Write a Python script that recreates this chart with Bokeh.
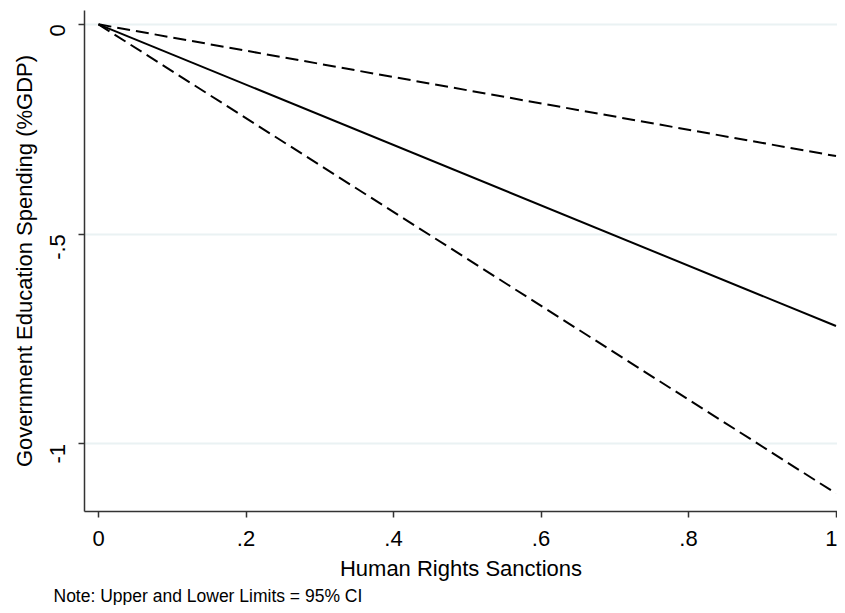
from bokeh.plotting import figure
from bokeh.models import FixedTicker, Title, Range1d
from bokeh.embed import file_html
from bokeh.resources import INLINE
import math

x_vals = [0, 1]
estimate = [0, -0.719]
upper = [0, -0.314]
lower = [0, -1.118]
x_ticks = [0, 0.2, 0.4, 0.6, 0.8, 1]
x_tick_labels = ["0", ".2", ".4", ".6", ".8", "1"]
y_ticks = [0, -0.5, -1]
y_tick_labels = ["0", "-.5", "-1"]

FONT = "Liberation Sans"

p = figure(width=837, height=605, output_backend="svg", toolbar_location=None,
           x_range=Range1d(-0.019, 1.002), y_range=Range1d(-1.161, 0.033),
           min_border_left=84, min_border_right=0, min_border_top=10, min_border_bottom=93)
p.outline_line_color = None
p.background_fill_color = "white"
p.border_fill_color = "white"

p.line(x_vals, estimate, line_color="black", line_width=2)
p.line(x_vals, upper, line_color="black", line_width=2, line_dash="13 6")
p.line(x_vals, lower, line_color="black", line_width=2, line_dash="13 6")

p.xgrid.grid_line_color = None
p.ygrid.grid_line_color = "#EAF2F3"
p.ygrid.grid_line_width = 2
p.ygrid.ticker = FixedTicker(ticks=y_ticks)

p.xaxis.ticker = FixedTicker(ticks=x_ticks)
p.yaxis.ticker = FixedTicker(ticks=y_ticks)
p.xaxis.major_label_overrides = {t: l for t, l in zip(x_ticks, x_tick_labels)}
p.yaxis.major_label_overrides = {t: l for t, l in zip(y_ticks, y_tick_labels)}
p.yaxis.major_label_orientation = math.pi / 2

for ax in (p.xaxis, p.yaxis):
    ax.axis_line_color = "#333333"
    ax.axis_line_width = 1.5
    ax.major_tick_line_color = "#333333"
    ax.major_tick_line_width = 1.5
    ax.major_tick_out = 6
    ax.major_tick_in = 0
    ax.minor_tick_line_color = None
    ax.major_label_text_font = FONT
    ax.major_label_text_font_size = "22px"
    ax.major_label_text_color = "black"
    ax.axis_label_text_font = FONT
    ax.axis_label_text_font_size = "22px"
    ax.axis_label_text_font_style = "normal"
    ax.axis_label_text_color = "black"

p.xaxis.axis_label = "Human Rights Sanctions"
p.yaxis.axis_label = "Government Education Spending (%GDP)"
p.xaxis.major_label_standoff = 13
p.yaxis.major_label_standoff = 21
p.xaxis.axis_label_standoff = 7
p.yaxis.axis_label_standoff = 3

note = Title(text="Note: Upper and Lower Limits = 95% CI", align="left", offset=-31,
             standoff=0, text_font=FONT, text_font_size="17.5px",
             text_font_style="normal", text_color="black")
p.add_layout(note, "below")

open("out.html", "w").write(file_html(p, INLINE))
